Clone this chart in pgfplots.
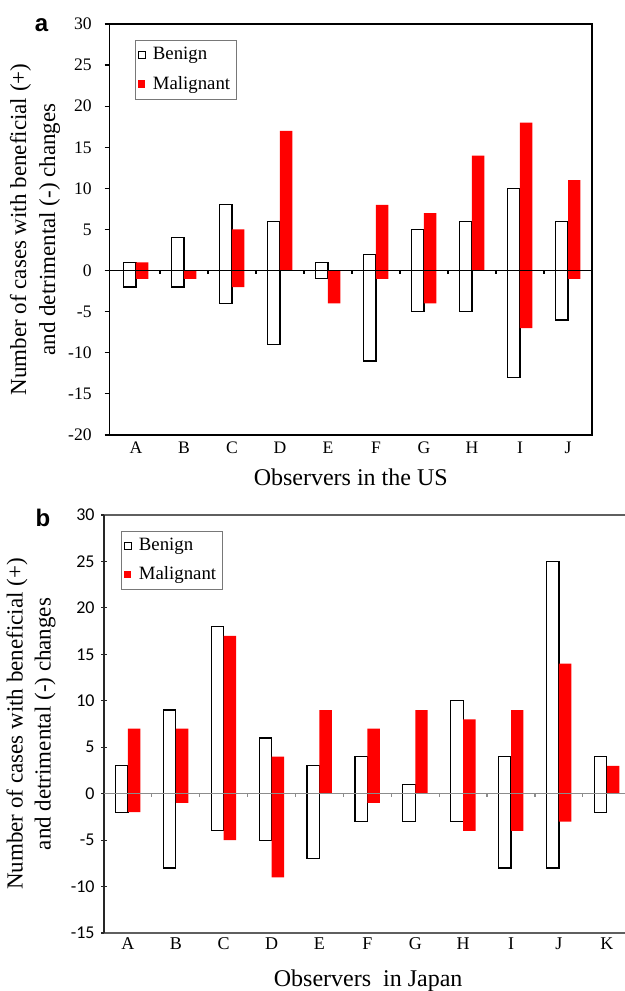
\documentclass[border=0pt]{standalone}
\usepackage{fontspec}
\setmainfont{Liberation Serif}
\newfontfamily\arialfont{Liberation Sans}
\newfontfamily\carlito{Carlito}
\usepackage{pgfplots}
\pgfplotsset{compat=1.18}

\definecolor{malred}{RGB}{255,0,0}
\definecolor{legframe}{RGB}{120,120,120}
\definecolor{axgray}{RGB}{95,95,95}
\definecolor{zerogray}{RGB}{140,140,140}

% shared look of both panels
\pgfplotsset{
  obs/.style={
    scale only axis,
    clip=false,
    ytick pos=left,
    tick align=outside,
    major tick length=2.5pt,
    xtick style={draw=none},
    /pgf/number format/assume math mode=true,
    legend cell align=left,
    legend style={anchor=north west, xshift=2pt, draw=legframe, line width=0.5pt,
      font=\fontsize{9.4}{11}\selectfont, inner xsep=1pt, inner ysep=1.5pt,
      row sep=2.5pt},
  },
  benign/.style={ybar, bar width=0.26, bar shift=-0.13, draw=black,
    fill=white, line width=0.6pt, forget plot},
  malig/.style={ybar, bar width=0.26, bar shift=0.13, draw=none,
    fill=malred, forget plot},
  benignkey/.style={legend image code/.code={
    \draw[black, line width=0.6pt, fill=white] (0pt,-1.8pt) rectangle (3.6pt,1.8pt);
    \path[draw=none, fill=none] (0pt,0pt) -- (5.4pt,0pt);}},
  maligkey/.style={legend image code/.code={
    \fill[malred, draw=none] (0pt,-1.8pt) rectangle (3.6pt,1.8pt);
    \path[draw=none, fill=none] (0pt,0pt) -- (5.4pt,0pt);}},
}

\begin{document}
\begin{tikzpicture}
\useasboundingbox (0,0) rectangle (312.5pt,495.5pt);

% ---------------- panel a : observers in the US ----------------
\begin{axis}[obs,
  at={(54.75pt,278pt)}, anchor=south west,
  width=241.25pt, height=205.5pt,
  xmin=-0.55, xmax=9.5, ymin=-20, ymax=30,
  ytick={-20,-15,...,30},
  xtick={0,...,9},
  xticklabels={A,B,C,D,E,F,G,H,I,J},
  axis line style={black, line width=0.75pt},
  ytick style={black, line width=0.6pt},
  yticklabel style={font=\fontsize{8.8}{10}\selectfont, anchor=east, inner sep=0pt, xshift=-6.25pt},
  xticklabel style={font=\fontsize{8.8}{10}\selectfont, anchor=base, inner sep=0pt, yshift=-7pt},
  xlabel={Observers in the US},
  xlabel style={font=\fontsize{12}{14}\selectfont, at={(axis description cs:0.5,-0.124)}, anchor=base},
  ylabel={Number of cases with beneficial (+)\\and detrimental (-) changes},
  ylabel style={font=\fontsize{11.5}{14.5}\selectfont, align=center, at={(axis description cs:-0.1546,0.5)}, anchor=center},
  legend style={at={(axis description cs:0.0446,0.961)}},
]
\addlegendimage{benignkey}
\addlegendentry{Benign}
\addlegendimage{maligkey}
\addlegendentry{Malignant}

% benign, beneficial and detrimental
\addplot[benign] coordinates {(0,1) (1,4) (2,8) (3,6) (4,1) (5,2) (6,5) (7,6) (8,10) (9,6)};
\addplot[benign] coordinates {(0,-2) (1,-2) (2,-4) (3,-9) (4,-1) (5,-11) (6,-5) (7,-5) (8,-13) (9,-6)};
% malignant, beneficial and detrimental
\addplot[malig] coordinates {(0,1) (2,5) (3,17) (5,8) (6,7) (7,14) (8,18) (9,11)};
\addplot[malig] coordinates {(0,-1) (1,-1) (2,-2) (4,-4) (5,-1) (6,-4) (8,-7) (9,-1)};

\draw[black, line width=0.6pt] ({rel axis cs:0,0} |- {axis cs:0,0}) -- ({rel axis cs:1,0} |- {axis cs:0,0});
\pgfplotsinvokeforeach{0.5,1.5,...,8.5}{
  \draw[black, line width=0.6pt] (axis cs:#1,0) -- ([yshift=-1.6pt]axis cs:#1,0);
}
\end{axis}
\node[font=\arialfont\bfseries\fontsize{12}{12}\selectfont, anchor=base] at (20.75pt,479.5pt) {a};

% ---------------- panel b : observers in Japan ----------------
\begin{axis}[obs,
  at={(52pt,29pt)}, anchor=south west,
  width=260.5pt, height=209pt,
  xmin=-0.5, xmax=10.38, ymin=-15, ymax=30,
  axis x line=box, axis y line=left,
  ytick={-15,-10,...,30},
  xtick={0,...,10},
  xticklabels={A,B,C,D,E,F,G,H,I,J,K},
  axis line style={axgray, line width=0.75pt, -},
  y axis line style={black!85},
  ytick style={black!85, line width=0.6pt},
  major tick length=3pt,
  yticklabel style={font=\carlito\fontsize{9}{10}\selectfont, anchor=east, inner sep=0pt, xshift=-3pt},
  xticklabel style={font=\fontsize{9}{10}\selectfont, anchor=base, inner sep=0pt, yshift=-5.5pt},
  xlabel={Observers\ \ in Japan},
  xlabel style={font=\fontsize{12}{14}\selectfont, at={(axis description cs:0.507,-0.127)}, anchor=base},
  ylabel={Number of cases with beneficial (+)\\and detrimental (-) changes},
  ylabel style={font=\fontsize{11.5}{14}\selectfont, align=center, at={(axis description cs:-0.140,0.5)}, anchor=center},
  legend style={at={(axis description cs:0.025,0.962)}},
]
\addlegendimage{benignkey}
\addlegendentry{Benign}
\addlegendimage{maligkey}
\addlegendentry{Malignant}

\addplot[benign] coordinates {(0,3) (1,9) (2,18) (3,6) (4,3) (5,4) (6,1) (7,10) (8,4) (9,25) (10,4)};
\addplot[benign] coordinates {(0,-2) (1,-8) (2,-4) (3,-5) (4,-7) (5,-3) (6,-3) (7,-3) (8,-8) (9,-8) (10,-2)};
\addplot[malig] coordinates {(0,7) (1,7) (2,17) (3,4) (4,9) (5,7) (6,9) (7,8) (8,9) (9,14) (10,3)};
\addplot[malig] coordinates {(0,-2) (1,-1) (2,-5) (3,-9) (5,-1) (7,-4) (8,-4) (9,-3)};

\draw[zerogray, line width=0.6pt] ({rel axis cs:0,0} |- {axis cs:0,0}) -- ({rel axis cs:1,0} |- {axis cs:0,0});
\pgfplotsinvokeforeach{0.5,1.5,...,9.5}{
  \draw[zerogray, line width=0.6pt] (axis cs:#1,0) -- ([yshift=-1.6pt]axis cs:#1,0);
}
\end{axis}
\node[font=\arialfont\bfseries\fontsize{12}{12}\selectfont, anchor=base] at (21.5pt,232pt) {b};
\end{tikzpicture}
\end{document}
